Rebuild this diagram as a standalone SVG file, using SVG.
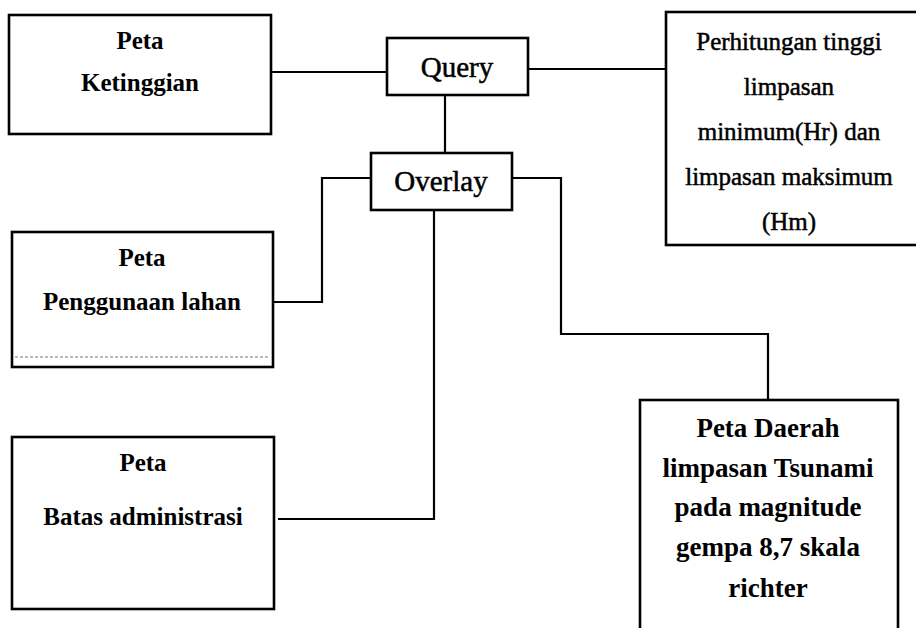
<svg xmlns="http://www.w3.org/2000/svg" width="916" height="628" viewBox="0 0 916 628">
  <style>
    .box { fill: #fff; stroke: #000; stroke-width: 2.6; }
    .link { fill: none; stroke: #000; stroke-width: 2.2; stroke-linejoin: miter; }
    .lbl { font-family: "Liberation Serif", "Times New Roman", serif; font-weight: bold; font-size: 25px; fill: #000; text-anchor: middle; }
    .big { font-size: 27px; }
    .op { font-family: "Liberation Serif", "Times New Roman", serif; font-size: 29px; fill: #000; text-anchor: middle; stroke: #000; stroke-width: 0.5; }
    .calc { font-family: "Liberation Serif", "Times New Roman", serif; font-size: 25px; fill: #000; text-anchor: middle; stroke: #000; stroke-width: 0.5; }
    .faint { fill: none; stroke: #777; stroke-width: 1.2; stroke-dasharray: 3 2; }
  </style>
  <rect width="916" height="628" fill="#fff"/>

  <!-- connectors -->
  <g id="connectors">
    <path class="link" d="M271 72 H387"/>
    <path class="link" d="M528 69 H666"/>
    <path class="link" d="M445 95 V153"/>
    <path class="link" d="M371 178 H322 V302 H273"/>
    <path class="link" d="M434 210 V519 H278"/>
    <path class="link" d="M512 178 H561 V334 H768 V400"/>
  </g>

  <g id="peta-ketinggian">
    <rect class="box" x="9" y="15" width="262" height="119"/>
    <text class="lbl" x="140" y="49">Peta</text>
    <text class="lbl" x="140" y="91">Ketinggian</text>
  </g>

  <g id="query">
    <rect class="box" x="387" y="38" width="141" height="57"/>
    <text class="op" x="457" y="77">Query</text>
  </g>

  <g id="perhitungan">
    <rect class="box" x="666" y="12" width="270" height="233"/>
    <text class="calc" x="789" y="50">Perhitungan tinggi</text>
    <text class="calc" x="789" y="95">limpasan</text>
    <text class="calc" x="789" y="140">minimum(Hr) dan</text>
    <text class="calc" x="789" y="185">limpasan maksimum</text>
    <text class="calc" x="789" y="230">(Hm)</text>
  </g>

  <g id="overlay">
    <rect class="box" x="371" y="153" width="141" height="57"/>
    <text class="op" x="441" y="191">Overlay</text>
  </g>

  <g id="peta-penggunaan-lahan">
    <rect class="box" x="12" y="232" width="261" height="135"/>
    <line class="faint" x1="15" y1="357" x2="270" y2="357"/>
    <text class="lbl" x="142" y="266">Peta</text>
    <text class="lbl" x="142" y="310">Penggunaan lahan</text>
  </g>

  <g id="peta-batas-administrasi">
    <rect class="box" x="12" y="437" width="262" height="172"/>
    <text class="lbl" x="143" y="471">Peta</text>
    <text class="lbl" x="143" y="525">Batas administrasi</text>
  </g>

  <g id="peta-daerah-limpasan">
    <rect class="box" x="640" y="400" width="258" height="240"/>
    <text class="lbl big" x="768" y="437">Peta Daerah</text>
    <text class="lbl big" x="768" y="477">limpasan Tsunami</text>
    <text class="lbl big" x="768" y="516">pada magnitude</text>
    <text class="lbl big" x="768" y="556">gempa 8,7 skala</text>
    <text class="lbl big" x="768" y="597">richter</text>
  </g>
</svg>
